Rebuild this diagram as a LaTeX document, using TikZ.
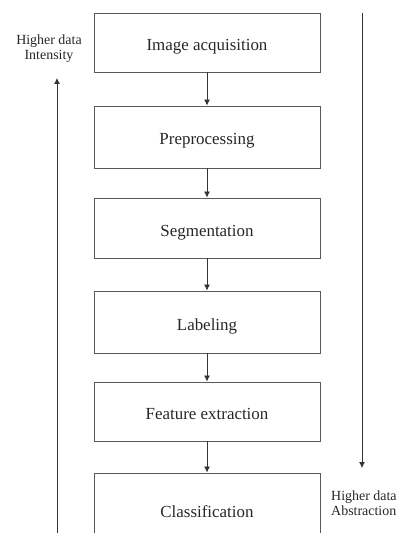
\documentclass[tikz,border=0pt]{standalone}
\usepackage{fontspec}
\setmainfont{Liberation Serif}
\usetikzlibrary{arrows.meta}
\begin{document}
\begin{tikzpicture}[x=1bp,y=-1bp,
  box/.style={draw=black!65, line width=0.9bp, minimum width=226bp, inner sep=0pt,
    font=\fontsize{17}{20}\selectfont, text=black!85, text height=16bp, text depth=0pt},
  arr/.style={draw=black!80, line width=0.8bp, -{Latex[length=6bp,width=6bp]}},
  side/.style={font=\fontsize{14}{15}\selectfont, text=black!85, inner sep=0pt}]
\clip (0,0) rectangle (406,533);
\node[box, minimum height=59bp] (b1) at (207,42.5) {Image acquisition};
\node[box, minimum height=62bp] (b2) at (207,137) {Preprocessing};
\node[box, minimum height=60bp] (b3) at (207,228) {Segmentation};
\node[box, minimum height=62bp] (b4) at (207,322) {Labeling};
\node[box, minimum height=59bp] (b5) at (207,411.5) {Feature extraction};
\node[box, minimum height=72bp] (b6) at (207,509) {Classification};
\draw[arr] (b1) -- (b2);
\draw[arr] (b2) -- (b3);
\draw[arr] (b3) -- (b4);
\draw[arr] (b4) -- (b5);
\draw[arr] (b5) -- (b6);
\coordinate (lb) at (57,540);
\coordinate (lt) at (57,78);
\draw[arr] (lb) -- (lt);
\coordinate (rt) at (362,13);
\coordinate (rb) at (362,468);
\draw[arr] (rt) -- (rb);
\node[side, align=center] (ti) at (49,49) {Higher data\\Intensity};
\node[side, align=left, anchor=west] (ta) at (331,503) {Higher data\\Abstraction};
\end{tikzpicture}
\end{document}
